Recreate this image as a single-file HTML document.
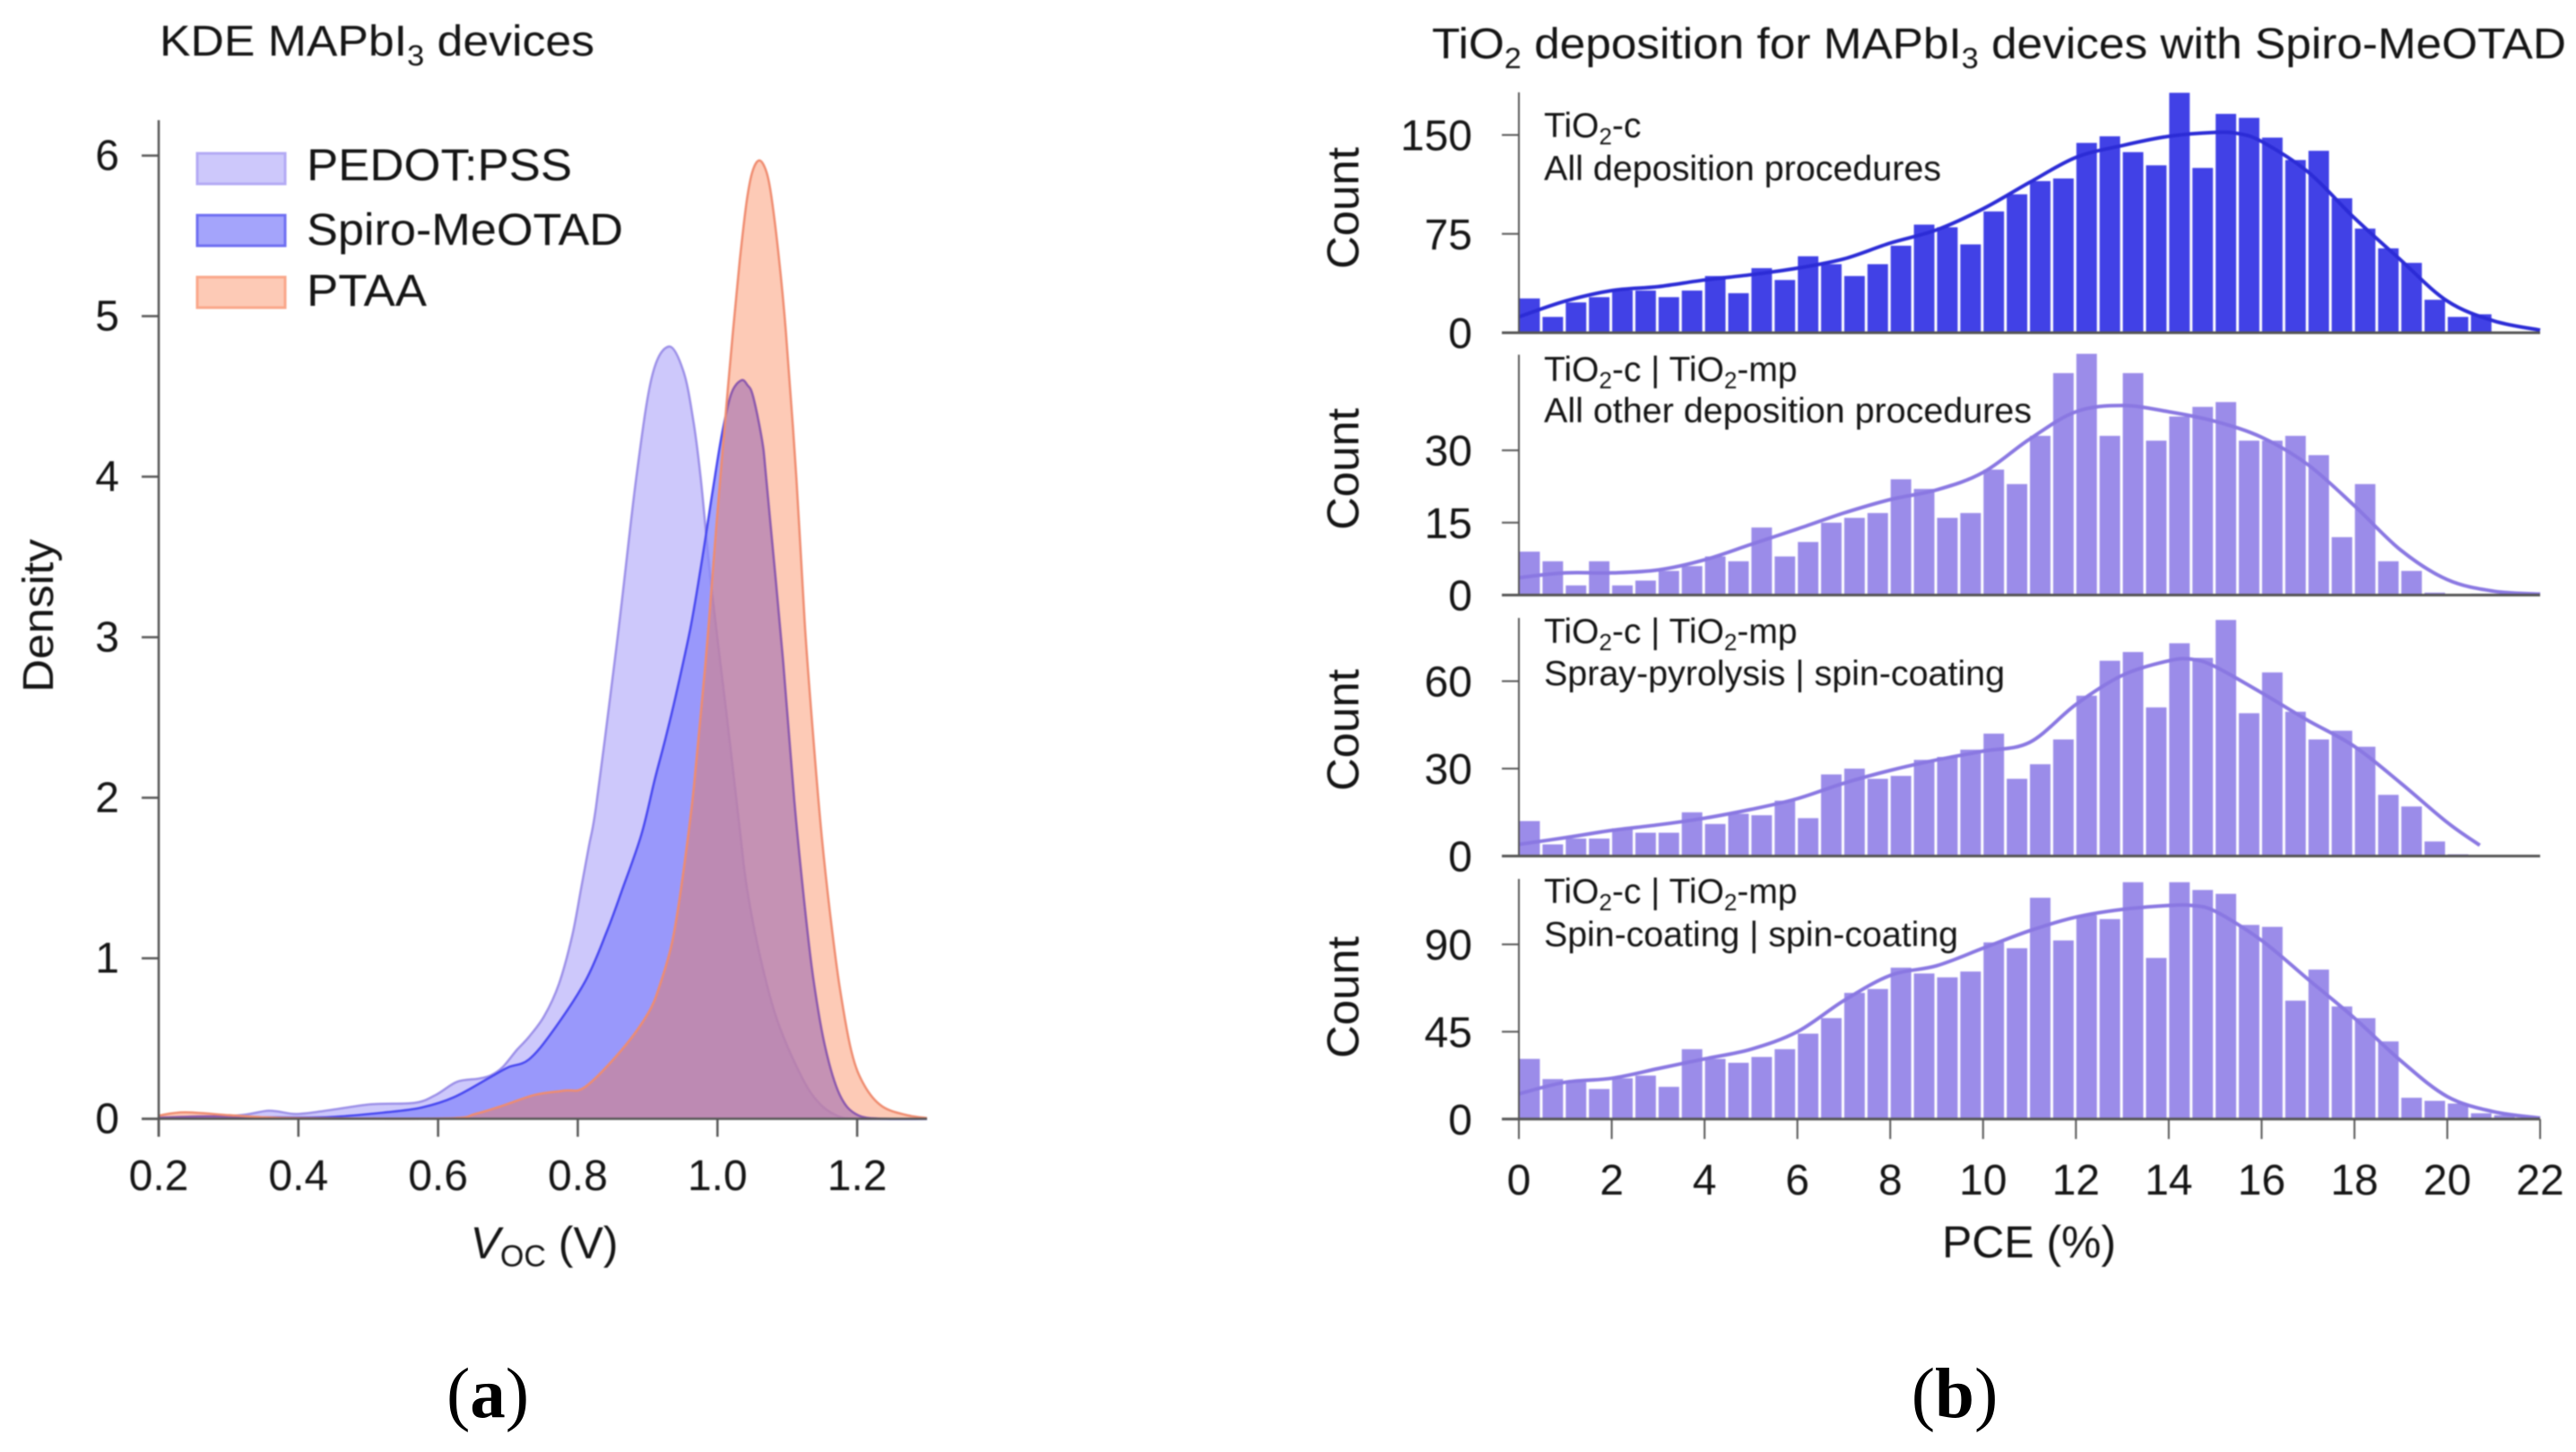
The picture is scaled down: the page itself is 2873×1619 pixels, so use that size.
<!DOCTYPE html>
<html><head><meta charset="utf-8"><title>KDE and PCE histograms</title>
<style>
html,body{margin:0;padding:0;background:#fff;width:2873px;height:1619px;overflow:hidden}
svg{display:block;font-family:"Liberation Sans",sans-serif;fill:#151515}
svg > :not(.crisp){filter:blur(.8px)}
</style></head><body>
<svg id="fig" xmlns="http://www.w3.org/2000/svg" width="2873" height="1619" viewBox="0 0 2873 1619">
<text x="178" y="62" font-size="48" textLength="485" lengthAdjust="spacingAndGlyphs">KDE MAPbI<tspan font-size="32" dy="11">3</tspan><tspan dy="-11"> devices</tspan></text>
<text x="1597" y="65" font-size="48" textLength="1265" lengthAdjust="spacingAndGlyphs">TiO<tspan font-size="32" dy="11">2</tspan><tspan dy="-11"> deposition for MAPbI</tspan><tspan font-size="32" dy="11">3</tspan><tspan dy="-11"> devices with Spiro-MeOTAD</tspan></text>
<g id="kde"></g>
<text transform="translate(59 772) rotate(-90)" font-size="48" textLength="171" lengthAdjust="spacingAndGlyphs">Density</text>
<text x="607" y="1403" font-size="50" text-anchor="middle"><tspan font-style="italic">V</tspan><tspan font-size="34" dy="9">OC</tspan><tspan dy="-9"> (V)</tspan></text>
<g>
<rect x="220" y="171" width="98" height="34" fill="#cdc8fb" stroke="#b3aaf4" stroke-width="3"/>
<text x="342" y="201" font-size="50" textLength="296" lengthAdjust="spacingAndGlyphs">PEDOT:PSS</text>
<rect x="220" y="240" width="98" height="34" fill="#a4a4fb" stroke="#6f6ff2" stroke-width="3"/>
<text x="342" y="273" font-size="50" textLength="353" lengthAdjust="spacingAndGlyphs">Spiro-MeOTAD</text>
<rect x="220" y="309" width="98" height="34" fill="#fdcab6" stroke="#f9a78a" stroke-width="3"/>
<text x="342" y="341" font-size="50" textLength="134" lengthAdjust="spacingAndGlyphs">PTAA</text>
</g>
<g id="hist"></g>
<text x="2263" y="1402" font-size="50" text-anchor="middle" textLength="194" lengthAdjust="spacingAndGlyphs">PCE (%)</text>
<text font-size="32" x="1722" y="153"><tspan font-size="39">TiO</tspan><tspan dy="8" font-size="26">2</tspan><tspan dy="-8" font-size="39">-c</tspan></text>
<text x="1722" y="201" font-size="39" textLength="443" lengthAdjust="spacingAndGlyphs">All deposition procedures</text>
<text x="1722" y="425"><tspan font-size="39">TiO</tspan><tspan dy="8" font-size="26">2</tspan><tspan dy="-8" font-size="39">-c | TiO</tspan><tspan dy="8" font-size="26">2</tspan><tspan dy="-8" font-size="39">-mp</tspan></text>
<text x="1722" y="471" font-size="39" textLength="544" lengthAdjust="spacingAndGlyphs">All other deposition procedures</text>
<text x="1722" y="717"><tspan font-size="39">TiO</tspan><tspan dy="8" font-size="26">2</tspan><tspan dy="-8" font-size="39">-c | TiO</tspan><tspan dy="8" font-size="26">2</tspan><tspan dy="-8" font-size="39">-mp</tspan></text>
<text x="1722" y="764" font-size="39" textLength="514" lengthAdjust="spacingAndGlyphs">Spray-pyrolysis | spin-coating</text>
<text x="1722" y="1007"><tspan font-size="39">TiO</tspan><tspan dy="8" font-size="26">2</tspan><tspan dy="-8" font-size="39">-c | TiO</tspan><tspan dy="8" font-size="26">2</tspan><tspan dy="-8" font-size="39">-mp</tspan></text>
<text x="1722" y="1055" font-size="39" textLength="462" lengthAdjust="spacingAndGlyphs">Spin-coating | spin-coating</text>
<text class="crisp" x="544" y="1580" text-anchor="middle" font-size="79" fill="#000" style="font-family:'Liberation Serif',serif">(<tspan font-weight="bold">a</tspan>)</text>
<text class="crisp" x="2180" y="1580" text-anchor="middle" font-size="79" fill="#000" style="font-family:'Liberation Serif',serif">(<tspan font-weight="bold">b</tspan>)</text>
</svg>
<script>
// KDE chart data
const kdeXTicks = [0.2, 0.4, 0.6, 0.8, 1.0, 1.2];
const kdeYTicks = [0, 1, 2, 3, 4, 5, 6];
const pedotV = [0.2,0.31,0.358,0.396,0.439,0.503,0.567,0.597,0.627,0.657,0.675,0.692,0.713,0.73,0.752,0.773,0.792,0.805,0.816,0.826,0.85,0.863,0.884,0.906,0.93,0.951,0.965,0.976,0.991,1.013,1.032,1.042,1.06,1.085,1.12,1.145,1.171,1.2,1.3];
const pedotD = [0.01,0.02,0.05,0.03,0.05,0.09,0.1,0.15,0.23,0.25,0.27,0.32,0.43,0.51,0.64,0.84,1.14,1.44,1.7,1.94,2.75,3.22,4.0,4.62,4.81,4.66,4.36,3.99,3.32,2.52,1.8,1.44,1.03,0.62,0.265,0.1,0.02,0,0];
const spiroV = [0.2,0.268,0.35,0.44,0.525,0.576,0.623,0.675,0.7,0.73,0.764,0.811,0.841,0.863,0.891,0.91,0.925,0.94,0.961,0.976,0.985,0.997,1.008,1.02,1.034,1.043,1.051,1.064,1.07,1.094,1.11,1.124,1.137,1.154,1.175,1.2,1.24,1.3];
const spiroD = [0.005,0.015,0.01,0.01,0.04,0.07,0.135,0.26,0.32,0.37,0.545,0.86,1.16,1.42,1.77,2.11,2.36,2.63,3.05,3.43,3.68,4.02,4.3,4.52,4.6,4.57,4.5,4.22,3.98,2.85,1.98,1.36,0.88,0.45,0.15,0.025,0,0];
const ptaaV = [0.2,0.238,0.31,0.39,0.61,0.653,0.696,0.739,0.781,0.811,0.863,0.901,0.918,0.935,0.948,0.963,0.97,0.983,0.991,1.0,1.01,1.021,1.032,1.042,1.05,1.06,1.07,1.077,1.087,1.098,1.113,1.125,1.138,1.149,1.162,1.175,1.192,1.21,1.235,1.269,1.3];
const ptaaD = [0.02,0.04,0.02,0.005,0.003,0.03,0.087,0.15,0.176,0.2,0.43,0.66,0.84,1.1,1.44,1.94,2.24,2.85,3.28,3.78,4.3,4.85,5.35,5.72,5.9,5.97,5.9,5.75,5.4,4.9,3.99,3.08,2.33,1.77,1.25,0.82,0.415,0.21,0.08,0.025,0.005];

// Histogram data
const pceTicks = [0,2,4,6,8,10,12,14,16,18,20,22];
const panel1Ticks = [0,75,150];
const panel2Ticks = [0,15,30];
const panel3Ticks = [0,30,60];
const panel4Ticks = [0,45,90];
const panel1Counts = [26,12,23,27,32,32,27,32,43,30,49,40,58,52,43,52,66,82,80,67,92,105,115,117,144,149,137,127,182,125,166,163,148,131,138,102,79,64,53,25,12,14,0,0];
const panel2Counts = [9,7,2,7,2,3,5,6,8,7,14,8,11,15,16,17,24,22,16,17,26,23,33,46,50,33,46,32,37,39,40,32,32,33,29,12,23,7,5,0.5,0,0.3,0,0];
const panel3Counts = [12,4,6,6,9.5,8,8,15,11,14.5,14,19,13,28,30,26.5,27.5,33,34,36.5,42,26.5,31.5,40,55,67,70,51,73,68,81,49,63,49.5,40,43,37.5,21,17,5,0.6,0,0,0];
const panel4Counts = [31,20.6,19,15.5,21,22.4,16.6,36,31,29,32,36,44,52,65,67,78,75,73,76,91,88,114,92,105,103,122,83,122,118,116,100,99,61,77,58,52,40,11,9.4,8,3,2,0.5];
const curve1Pce = [0,1,2,3,4,5,6,7,8,9,10,11,12,13,14,15,15.5,16,17,18,19,20,21,22];
const curve1Fit = [12,24,32,35,40,44,49,56,68,78,94,114,133,142,149,152,151,145,122,87,55,24,9,2];
const curve2Pce = [0,1,2,3,4,5,6,7,8,9,10,11,12,13,14,15,16,17,18,19,20,21,22];
const curve2Fit = [3.6,4.6,4.6,5.2,7.3,10.5,13.7,17,19.8,21.8,25.4,32.3,38,39.3,38,36,32.7,27,18.5,9.3,3.2,0.8,0.2];
const curve3Pce = [0,1,2,3,4,5,6,7,8,9,10,11,12,13,14,14.5,15,16,17,18,19,20,20.7];
const curve3Fit = [4,6.3,8.8,10.7,13,16,19.7,25,29.4,33,36,39,52,62,67,67.5,65,56,46.5,37.6,25,11.5,3.7];
const curve4Pce = [0,1,2,3,4,5,6,7,8,9,10,11,12,13,14,14.5,15,16,17,18,19,20,21,22];
const curve4Fit = [13,19,21,26,31,36,45,61,74,79,88,97,104,108,110,110,107,92,72,52,30,11.6,3.8,0.5];

const NS = 'http://www.w3.org/2000/svg';
function mk(parent, tag, attrs, text) {
  const el = document.createElementNS(NS, tag);
  for (const k in attrs) el.setAttribute(k, attrs[k]);
  if (text !== undefined) el.textContent = text;
  parent.appendChild(el);
  return el;
}
function smooth(pts) {
  let d = '';
  for (let i = 0; i < pts.length - 1; i++) {
    const p0 = pts[Math.max(i - 1, 0)], p1 = pts[i], p2 = pts[i + 1], p3 = pts[Math.min(i + 2, pts.length - 1)];
    const c1 = [p1[0] + (p2[0] - p0[0]) / 6, p1[1] + (p2[1] - p0[1]) / 6];
    const c2 = [p2[0] - (p3[0] - p1[0]) / 6, p2[1] - (p3[1] - p1[1]) / 6];
    d += ' C' + c1[0].toFixed(1) + ' ' + c1[1].toFixed(1) + ' ' + c2[0].toFixed(1) + ' ' + c2[1].toFixed(1) + ' ' + p2[0].toFixed(1) + ' ' + p2[1].toFixed(1);
  }
  return 'M' + pts[0][0].toFixed(1) + ' ' + pts[0][1].toFixed(1) + d;
}

// KDE axes
const kdeG = document.getElementById('kde');
const kx = v => 177 + (v - 0.2) * 779;
const ky = d => 1247.5 - d * 179;
function drawKde(name, vs, ds, fill, fillOp, stroke) {
  const pts = vs.map((v, i) => [kx(v), ky(ds[i])]);
  const area = mk(kdeG, 'path', {d: smooth(pts) + ' L' + kx(vs[vs.length - 1]) + ' ' + ky(0) + ' L' + kx(vs[0]) + ' ' + ky(0) + ' Z', fill: fill, 'fill-opacity': fillOp, stroke: 'none'});
  
  
  const line = mk(kdeG, 'path', {d: smooth(pts), fill: 'none', stroke: stroke, 'stroke-width': 2.5});
  
  
}
drawKde('pedot-pss', pedotV, pedotD, '#7869f5', 0.37, '#9c90e8');
drawKde('spiro-meotad', spiroV, spiroD, '#8a8afa', 0.78, '#4848f0');
drawKde('ptaa', ptaaV, ptaaD, '#fa743f', 0.38, '#ef8c70');
const kdeYAxis = mk(kdeG, 'line', {x1: 177, x2: 177, y1: 134, y2: ky(0) + 20, stroke: '#555', 'stroke-width': 2.5});


const kdeXAxis = mk(kdeG, 'line', {x1: 158, x2: kx(1.3), y1: ky(0), y2: ky(0), stroke: '#555', 'stroke-width': 2.5});


kdeYTicks.forEach(t => {
  const tick = mk(kdeG, 'line', {x1: 158, x2: 177, y1: ky(t), y2: ky(t), stroke: '#555', 'stroke-width': 2.5});
  
  
  const lab = mk(kdeG, 'text', {x: 133, y: ky(t) + 16, 'font-size': 48, 'text-anchor': 'end'}, String(t));
  
  
});
kdeXTicks.forEach(t => {
  const tick = mk(kdeG, 'line', {x1: kx(t), x2: kx(t), y1: ky(0), y2: ky(0) + 20, stroke: '#555', 'stroke-width': 2.5});
  
  
  const lab = mk(kdeG, 'text', {x: kx(t), y: 1327, 'font-size': 48, 'text-anchor': 'middle'}, t.toFixed(1));
  
  
});

// Histogram panels
const histG = document.getElementById('hist');
const px = p => 1694 + p * (2833 - 1694) / 22;
function drawPanel(name, base, unit, top, titleY, counts, pce, fit, ticks, barColor, lineColor) {
  const y = c => base - c * unit;
  counts.forEach((c, i) => {
    if (c <= 0) return;
    const bar = mk(histG, 'rect', {x: px(i * 0.5) + 0.5, y: y(c), width: px(0.5) - px(0) - 3, height: base - y(c), fill: barColor});
    
    
  });
  const curve = mk(histG, 'path', {d: smooth(pce.map((p, i) => [px(p), y(fit[i])])), fill: 'none', stroke: lineColor, 'stroke-width': 4});
  
  
  const yAxis = mk(histG, 'line', {x1: 1694, x2: 1694, y1: top, y2: base, stroke: '#555', 'stroke-width': 2});
  
  
  const xAxis = mk(histG, 'line', {x1: 1675, x2: 2833, y1: base, y2: base, stroke: '#555', 'stroke-width': 3});
  
  
  ticks.forEach(t => {
    const tick = mk(histG, 'line', {x1: 1675, x2: 1694, y1: y(t), y2: y(t), stroke: '#555', 'stroke-width': 2});
    
    
    const lab = mk(histG, 'text', {x: 1642, y: y(t) + 17, 'font-size': 48, 'text-anchor': 'end'}, String(t));
    
    
  });
  const title = mk(histG, 'text', {transform: 'translate(1515 ' + titleY + ') rotate(-90)', 'font-size': 50, textLength: 136, lengthAdjust: 'spacingAndGlyphs'}, 'Count');
  
  
}
drawPanel('panel-1', 371, 1.47, 103, 300, panel1Counts, curve1Pce, curve1Fit, panel1Ticks, '#4141e6', '#2c2cd6');
drawPanel('panel-2', 663.5, 5.38, 395.5, 591, panel2Counts, curve2Pce, curve2Fit, panel2Ticks, '#9b8ce9', '#8a78e2');
drawPanel('panel-3', 954.5, 3.25, 689, 882, panel3Counts, curve3Pce, curve3Fit, panel3Ticks, '#9b8ce9', '#8a78e2');
drawPanel('panel-4', 1247.8, 2.165, 980, 1180, panel4Counts, curve4Pce, curve4Fit, panel4Ticks, '#9b8ce9', '#8a78e2');
pceTicks.forEach(t => {
  const tick = mk(histG, 'line', {x1: px(t), x2: px(t), y1: 1247.8, y2: 1270, stroke: '#555', 'stroke-width': 2});
  
  
  const lab = mk(histG, 'text', {x: px(t), y: 1332, 'font-size': 48, 'text-anchor': 'middle'}, String(t));
  
  
});
</script>
</body></html>
